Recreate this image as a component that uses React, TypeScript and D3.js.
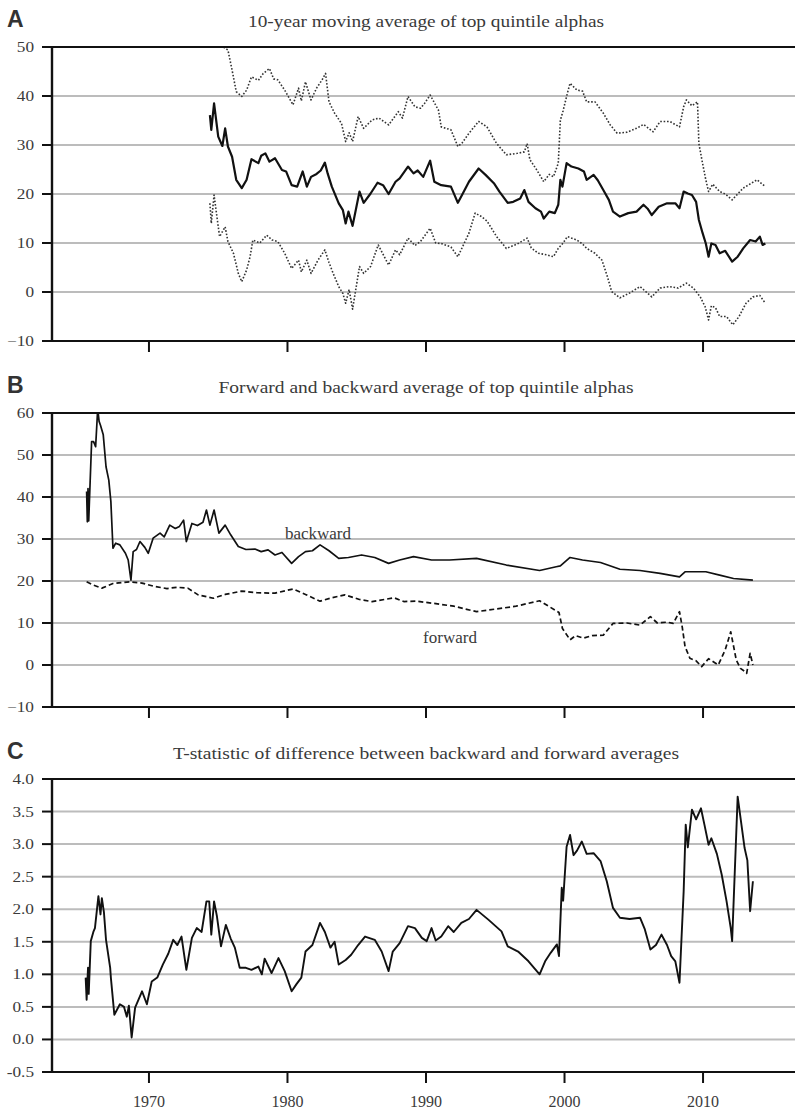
import React from "react";
import * as d3 from "d3";

type P = [number, number];

const xTickYears = [1970, 1980, 1990, 2000, 2010];
const aTicks = [-10, 0, 10, 20, 30, 40, 50];
const bTicks = [-10, 0, 10, 20, 30, 40, 50, 60];
const cTicks = [-0.5, 0, 0.5, 1, 1.5, 2, 2.5, 3, 3.5, 4];

const titleA = "10-year moving average of top quintile alphas";
const titleB = "Forward and backward average of top quintile alphas";
const titleC = "T-statistic of difference between backward and forward averages";

const aMean: P[] = [[1974.4,36.1],[1974.5,33.1],[1974.7,38.5],[1975.0,31.7],[1975.3,29.8],[1975.5,33.4],[1975.7,29.7],[1976.0,27.6],[1976.3,22.9],[1976.7,21.2],[1977.05,22.9],[1977.4,27.1],[1977.9,26.3],[1978.1,27.8],[1978.4,28.3],[1978.7,26.6],[1979.1,27.3],[1979.6,24.9],[1979.9,24.6],[1980.3,21.8],[1980.7,21.5],[1981.1,24.6],[1981.4,21.5],[1981.7,23.5],[1982.1,24.1],[1982.4,24.8],[1982.7,26.4],[1982.9,24.2],[1983.2,21.5],[1983.7,18.1],[1984.0,16.7],[1984.2,14.0],[1984.4,16.4],[1984.7,13.5],[1985.2,20.5],[1985.5,18.2],[1986.0,20.1],[1986.5,22.3],[1986.9,21.8],[1987.3,20.0],[1987.8,22.5],[1988.1,23.2],[1988.7,25.6],[1989.1,24.2],[1989.4,24.8],[1989.8,23.5],[1990.3,26.8],[1990.6,22.5],[1991.1,21.8],[1991.8,21.5],[1992.3,18.2],[1992.6,19.8],[1993.1,22.5],[1993.8,25.2],[1994.3,23.9],[1994.9,22.2],[1995.3,20.5],[1995.9,18.2],[1996.3,18.4],[1996.8,19.1],[1997.1,20.8],[1997.4,18.4],[1997.9,17.1],[1998.3,16.4],[1998.5,15.0],[1998.9,16.4],[1999.3,16.1],[1999.55,17.8],[1999.7,22.9],[1999.85,21.5],[2000.15,26.3],[2000.5,25.6],[2001.0,25.2],[2001.4,24.6],[2001.6,22.9],[2002.1,23.9],[2002.4,22.8],[2002.8,20.8],[2003.2,18.8],[2003.5,16.4],[2004.0,15.4],[2004.6,16.1],[2005.2,16.4],[2005.7,17.8],[2006.0,17.0],[2006.3,15.7],[2006.8,17.4],[2007.4,18.1],[2008.0,18.1],[2008.3,17.1],[2008.6,20.5],[2008.9,20.1],[2009.2,19.8],[2009.5,18.4],[2009.7,14.7],[2009.97,12.0],[2010.2,9.9],[2010.4,7.2],[2010.6,9.9],[2010.9,9.6],[2011.2,7.9],[2011.6,8.4],[2012.1,6.2],[2012.5,7.2],[2012.9,8.9],[2013.4,10.6],[2013.8,10.3],[2014.1,11.3],[2014.3,9.6],[2014.5,9.9]];

const aUpper: P[] = [[1974.4,56],[1974.7,59],[1975.0,54],[1975.25,50.2],[1975.7,49.4],[1976.0,45.3],[1976.3,40.9],[1976.7,39.9],[1977.05,41.2],[1977.4,43.9],[1977.9,43.2],[1978.25,44.6],[1978.7,45.6],[1979.0,43.5],[1979.3,43.3],[1979.8,41.2],[1980.4,38.2],[1980.8,41.6],[1981.0,39.0],[1981.3,42.9],[1981.7,39.2],[1982.1,41.6],[1982.5,43.3],[1982.75,44.6],[1983.0,38.8],[1983.4,36.5],[1983.9,34.4],[1984.2,30.7],[1984.45,32.5],[1984.7,30.7],[1985.1,35.8],[1985.5,33.4],[1986.1,35.1],[1986.6,35.5],[1987.3,34.1],[1988.0,36.8],[1988.3,35.5],[1988.7,39.9],[1989.2,37.8],[1989.6,37.5],[1989.9,38.5],[1990.3,40.2],[1990.9,37.1],[1991.1,33.7],[1991.8,33.1],[1992.3,29.7],[1992.6,30.4],[1993.1,32.4],[1993.8,34.8],[1994.4,33.7],[1995.1,30.3],[1995.8,28.0],[1996.6,28.3],[1997.1,28.6],[1997.3,30.3],[1997.5,27.0],[1998.0,24.9],[1998.5,22.5],[1998.9,24.0],[1999.2,23.5],[1999.55,26.3],[1999.7,35.1],[1999.9,37.0],[2000.2,40.5],[2000.4,42.6],[2000.9,41.2],[2001.3,41.0],[2001.6,38.8],[2002.2,38.8],[2002.8,36.5],[2003.3,34.1],[2003.8,32.4],[2004.5,32.6],[2005.2,33.4],[2005.7,34.2],[2006.4,32.7],[2006.9,34.8],[2007.6,34.8],[2008.3,33.7],[2008.6,37.8],[2008.8,39.2],[2009.2,38.0],[2009.6,38.8],[2009.7,30.3],[2009.95,26.5],[2010.2,22.9],[2010.4,20.5],[2010.7,22.0],[2011.2,20.5],[2011.6,20.0],[2012.1,18.8],[2012.9,21.2],[2013.9,22.9],[2014.5,21.5]];

const aLower: P[] = [[1974.4,18.1],[1974.5,14.0],[1974.7,19.8],[1974.9,15.5],[1975.1,11.3],[1975.5,13.3],[1975.7,10.3],[1976.1,7.9],[1976.45,3.8],[1976.7,2.1],[1977.05,4.5],[1977.3,7.2],[1977.5,10.6],[1978.0,10.0],[1978.5,11.6],[1978.9,10.6],[1979.3,10.3],[1979.8,7.9],[1980.3,4.8],[1980.8,6.5],[1981.0,4.1],[1981.4,6.5],[1981.7,3.8],[1982.2,6.5],[1982.7,8.6],[1983.0,6.0],[1983.3,3.8],[1983.7,1.1],[1984.0,-0.3],[1984.2,-2.3],[1984.45,0.5],[1984.7,-3.5],[1985.2,5.2],[1985.5,3.8],[1986.0,5.2],[1986.55,9.6],[1987.3,5.5],[1987.8,8.6],[1988.1,7.6],[1988.7,11.0],[1989.2,9.5],[1989.6,10.3],[1990.3,13.0],[1990.7,10.0],[1991.1,9.9],[1991.8,9.2],[1992.3,7.2],[1993.1,12.0],[1993.55,16.1],[1994.0,15.4],[1994.4,14.5],[1995.1,11.3],[1995.8,8.9],[1996.6,9.8],[1997.3,11.0],[1997.6,9.0],[1998.1,7.9],[1998.7,7.6],[1999.2,7.2],[1999.55,8.9],[1999.9,10.0],[2000.2,11.3],[2000.9,10.6],[2001.3,9.8],[2001.6,8.9],[2002.2,7.9],[2002.7,6.5],[2003.1,3.1],[2003.4,0.1],[2004.0,-1.2],[2004.7,-0.2],[2005.45,1.1],[2006.3,-1.0],[2006.9,0.8],[2007.6,1.1],[2008.2,0.8],[2008.8,1.8],[2009.3,0.8],[2009.8,-1.0],[2010.15,-3.0],[2010.4,-5.7],[2010.6,-2.8],[2010.9,-3.2],[2011.2,-5.0],[2011.7,-5.0],[2012.15,-6.7],[2012.6,-5.0],[2013.1,-2.3],[2013.6,-1.0],[2014.1,-0.7],[2014.5,-2.3]];

const bBackward: P[] = [[1965.5,41.3],[1965.55,34.1],[1965.6,42],[1965.65,34.3],[1965.86,53.2],[1966.0,53.2],[1966.15,52],[1966.3,61],[1966.4,58],[1966.5,57.1],[1966.7,54.8],[1966.9,47.2],[1967.1,44],[1967.25,38.9],[1967.4,27.8],[1967.6,29.0],[1967.9,28.6],[1968.3,26.6],[1968.5,25.0],[1968.7,20.2],[1968.86,27.0],[1969.1,27.5],[1969.35,29.4],[1969.7,28.0],[1969.95,26.6],[1970.3,30.2],[1970.8,31.4],[1971.1,30.5],[1971.5,33.3],[1971.9,32.5],[1972.2,33.0],[1972.5,34.5],[1972.7,29.4],[1973.1,33.7],[1973.5,33.2],[1973.9,34.0],[1974.15,36.9],[1974.4,33.3],[1974.7,36.9],[1975.05,31.4],[1975.5,33.3],[1975.9,31.0],[1976.45,28.2],[1977.0,27.5],[1977.65,27.6],[1978.1,27.0],[1978.6,27.4],[1979.1,26.2],[1979.6,26.8],[1980.3,24.2],[1980.8,25.8],[1981.3,27.0],[1981.8,27.2],[1982.35,28.6],[1983.0,27.2],[1983.7,25.4],[1984.4,25.6],[1985.35,26.2],[1986.3,25.6],[1987.3,24.2],[1988.1,25.0],[1989.1,25.8],[1990.4,25.0],[1991.7,25.0],[1993.65,25.4],[1995.8,23.8],[1998.2,22.5],[1999.4,23.4],[1999.7,23.6],[2000.4,25.6],[2001.3,25.0],[2002.6,24.4],[2004.0,22.8],[2005.45,22.5],[2006.9,21.8],[2008.3,21.0],[2008.7,22.2],[2010.2,22.2],[2011.2,21.4],[2012.2,20.6],[2013.6,20.2]];

const bForward: P[] = [[1965.5,19.8],[1966.0,19.0],[1966.6,18.3],[1967.4,19.4],[1968.6,19.8],[1969.5,19.5],[1970.4,18.7],[1971.3,18.2],[1972.0,18.5],[1972.8,18.3],[1973.55,16.7],[1974.65,15.9],[1975.5,16.8],[1976.7,17.6],[1977.8,17.2],[1979.1,17.1],[1980.4,18.1],[1981.3,16.8],[1982.35,15.2],[1983.2,16.0],[1984.15,16.7],[1985.2,15.6],[1986.1,15.1],[1987.7,16.0],[1988.4,15.1],[1989.3,15.2],[1990.5,14.7],[1992.0,14.0],[1993.65,12.7],[1995.0,13.3],[1996.5,14.0],[1998.2,15.3],[1999.3,13.1],[1999.6,12.5],[1999.85,8.7],[2000.4,6.0],[2000.8,7.0],[2001.35,6.4],[2002.0,7.0],[2002.8,7.1],[2003.5,9.9],[2004.5,10.0],[2005.45,9.5],[2006.2,11.5],[2006.7,10.0],[2007.4,10.2],[2007.85,9.9],[2008.3,12.7],[2008.5,9.0],[2008.7,4.4],[2009.05,1.6],[2009.5,1.0],[2009.9,-0.4],[2010.4,1.5],[2011.1,0.0],[2011.6,3.6],[2012.0,7.9],[2012.4,1.2],[2012.7,-0.8],[2013.0,-1.5],[2013.15,-2.0],[2013.4,2.8],[2013.6,0.0]];

const cTstat: P[] = [[1965.43,0.95],[1965.5,0.61],[1965.6,1.10],[1965.65,0.70],[1965.8,1.51],[1966.0,1.66],[1966.1,1.71],[1966.35,2.20],[1966.5,1.92],[1966.6,2.17],[1966.75,1.95],[1966.9,1.53],[1967.2,1.10],[1967.25,0.95],[1967.5,0.38],[1967.9,0.54],[1968.2,0.50],[1968.4,0.35],[1968.55,0.52],[1968.75,0.03],[1969.0,0.49],[1969.5,0.74],[1969.85,0.54],[1970.2,0.89],[1970.6,0.95],[1971.0,1.15],[1971.4,1.32],[1971.75,1.53],[1972.05,1.45],[1972.35,1.58],[1972.7,1.07],[1973.1,1.56],[1973.45,1.71],[1973.8,1.65],[1974.15,2.12],[1974.35,2.12],[1974.5,1.61],[1974.7,2.12],[1974.9,1.90],[1975.2,1.43],[1975.55,1.76],[1975.9,1.55],[1976.2,1.41],[1976.55,1.10],[1977.0,1.10],[1977.4,1.07],[1977.9,1.12],[1978.15,1.0],[1978.35,1.24],[1978.85,1.02],[1979.35,1.25],[1979.8,1.05],[1980.3,0.74],[1980.65,0.85],[1981.0,0.95],[1981.3,1.35],[1981.8,1.45],[1982.35,1.79],[1982.7,1.65],[1983.1,1.41],[1983.4,1.50],[1983.7,1.15],[1984.2,1.22],[1984.6,1.30],[1985.1,1.45],[1985.6,1.58],[1986.3,1.53],[1986.8,1.35],[1987.3,1.05],[1987.6,1.35],[1988.1,1.48],[1988.7,1.74],[1989.2,1.71],[1989.7,1.56],[1990.05,1.51],[1990.4,1.71],[1990.7,1.52],[1991.1,1.58],[1991.6,1.74],[1992.0,1.65],[1992.55,1.79],[1993.1,1.85],[1993.65,1.99],[1994.5,1.84],[1995.45,1.66],[1995.9,1.43],[1996.65,1.35],[1997.4,1.2],[1998.2,1.0],[1998.6,1.2],[1999.0,1.33],[1999.45,1.46],[1999.6,1.28],[1999.8,2.33],[1999.9,2.13],[2000.15,2.96],[2000.4,3.14],[2000.65,2.83],[2000.9,2.90],[2001.25,3.04],[2001.6,2.85],[2002.1,2.86],[2002.6,2.74],[2003.05,2.43],[2003.5,2.02],[2004.0,1.87],[2004.7,1.85],[2005.45,1.87],[2005.8,1.69],[2006.2,1.38],[2006.6,1.45],[2007.0,1.61],[2007.4,1.45],[2007.7,1.28],[2008.0,1.20],[2008.3,0.87],[2008.6,2.27],[2008.75,3.30],[2008.9,2.95],[2009.2,3.53],[2009.5,3.38],[2009.85,3.55],[2010.1,3.30],[2010.4,2.99],[2010.6,3.09],[2011.0,2.85],[2011.35,2.53],[2011.7,2.12],[2012.0,1.71],[2012.1,1.51],[2012.5,3.73],[2013.0,2.94],[2013.2,2.75],[2013.4,1.97],[2013.6,2.43]];

const W = 795;
const H = 1112;
const X0 = 52;
const X1 = 800;
const SERIF = "Liberation Serif, Times New Roman, Times, DejaVu Serif, Noto Serif, serif";
const SANS = "Liberation Sans, Arial, Helvetica, DejaVu Sans, sans-serif";
const GRID = "#bcbcbc";
const TXT = "#3a3a3a";

const x = d3.scaleLinear().domain([1963, 2017]).range([X0, X1]);

type Series = { data: P[]; width: number; dash?: string; color?: string };

function Panel(props: {
  id: string;
  letter: string;
  title: string;
  titleLen: number;
  top: number;
  bottom: number;
  domain: [number, number];
  ticks: number[];
  fmt: (v: number) => string;
  series: Series[];
  xLabels: boolean;
  children?: React.ReactNode;
}) {
  const { id, letter, title, titleLen, top, bottom, domain, ticks, fmt, series, xLabels } = props;
  const y = d3.scaleLinear().domain(domain).range([bottom, top]);
  const line = d3
    .line<P>()
    .x((d) => x(d[0]))
    .y((d) => y(d[1]));
  const cx = (X0 + X1) / 2;
  const serif = { fontFamily: SERIF };
  return (
    <g>
      <defs>
        <clipPath id={"clip" + id}>
          <rect x={X0} y={top} width={X1 - X0} height={bottom - top} />
        </clipPath>
      </defs>
      <text x={7} y={top - 20} style={{ fontFamily: SANS }} fontWeight="bold" fontSize={23} fill="#333">
        {letter}
      </text>
      <text
        x={cx}
        y={top - 20}
        textAnchor="middle"
        style={serif}
        fontSize={17}
        fill={TXT}
        textLength={titleLen}
        lengthAdjust="spacingAndGlyphs"
      >
        {title}
      </text>
      {ticks
        .filter((t) => t !== domain[0] && t !== domain[1])
        .map((t) => (
          <line key={"g" + t} x1={X0} x2={X1} y1={y(t)} y2={y(t)} stroke={GRID} strokeWidth={2} />
        ))}
      {series.map((s, i) => (
        <path
          key={i}
          d={line(s.data) || ""}
          fill="none"
          stroke={s.color || "#111"}
          strokeWidth={s.width}
          strokeDasharray={s.dash}
          strokeLinejoin="round"
          clipPath={`url(#clip${id})`}
        />
      ))}
      {props.children}
      <line x1={X0} x2={X1} y1={top} y2={top} stroke="#111" strokeWidth={2.2} />
      <line x1={X0} x2={X1} y1={bottom} y2={bottom} stroke="#111" strokeWidth={2.2} />
      <line x1={X0} x2={X0} y1={top - 1} y2={bottom + 1} stroke="#111" strokeWidth={2.4} />
      {ticks.map((t) => (
        <g key={"t" + t}>
          <line x1={X0 - 10} x2={X0} y1={y(t)} y2={y(t)} stroke="#111" strokeWidth={2} />
          <text
            transform={`translate(34,${y(t) + 5}) scale(1.15,1)`}
            textAnchor="end"
            style={serif}
            fontSize={15}
            fill={TXT}
          >
            {fmt(t)}
          </text>
        </g>
      ))}
      {xTickYears.map((yr) => (
        <g key={"x" + yr}>
          <line x1={x(yr)} x2={x(yr)} y1={bottom} y2={bottom + 11} stroke="#111" strokeWidth={2} />
          {xLabels && (
            <text x={x(yr)} y={bottom + 35} textAnchor="middle" style={serif} fontSize={16} fill={TXT}>
              {yr}
            </text>
          )}
        </g>
      ))}
    </g>
  );
}

export default function App() {
  const yB = d3.scaleLinear().domain([-10, 60]).range([707, 413]);
  return (
    <svg
      width={W}
      height={H}
      viewBox={`0 0 ${W} ${H}`}
      style={{ position: "absolute", left: 0, top: 0, background: "#fff" }}
    >
      <rect x={0} y={0} width={W} height={H} fill="#fff" />
      <Panel
        id="A"
        letter="A"
        title={titleA}
        titleLen={356}
        top={47}
        bottom={341}
        domain={[-10, 50]}
        ticks={aTicks}
        fmt={(v) => (v < 0 ? "\u2212" + Math.abs(v) : String(v))}
        xLabels={false}
        series={[
          { data: aUpper, width: 1.6, dash: "1.6,1.8", color: "#333" },
          { data: aLower, width: 1.6, dash: "1.6,1.8", color: "#333" },
          { data: aMean, width: 2.2 },
        ]}
      />
      <Panel
        id="B"
        letter="B"
        title={titleB}
        titleLen={415}
        top={413}
        bottom={707}
        domain={[-10, 60]}
        ticks={bTicks}
        fmt={(v) => (v < 0 ? "\u2212" + Math.abs(v) : String(v))}
        xLabels={false}
        series={[
          { data: bBackward, width: 1.7 },
          { data: bForward, width: 1.7, dash: "5,3" },
        ]}
      >
        <text x={318} y={yB(30)} textAnchor="middle" style={{ fontFamily: SERIF }} fontSize={17} fill={TXT}>
          backward
        </text>
        <text x={450} y={yB(5.3)} textAnchor="middle" style={{ fontFamily: SERIF }} fontSize={17} fill={TXT}>
          forward
        </text>
      </Panel>
      <Panel
        id="C"
        letter="C"
        title={titleC}
        titleLen={506}
        top={779}
        bottom={1072}
        domain={[-0.5, 4]}
        ticks={cTicks}
        fmt={(v) => v.toFixed(1)}
        xLabels={true}
        series={[{ data: cTstat, width: 1.9 }]}
      />
    </svg>
  );
}
